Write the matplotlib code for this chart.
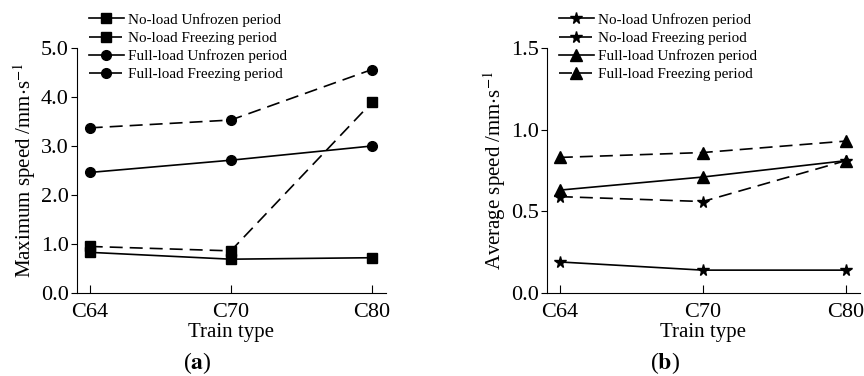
import matplotlib
matplotlib.use("Agg")
import matplotlib.pyplot as plt

plt.rcParams['font.family'] = ['Liberation Serif', 'DejaVu Serif']
plt.rcParams['mathtext.fontset'] = 'stix'

train_types = ["C64", "C70", "C80"]
series_labels = ["No-load Unfrozen period", "No-load Freezing period",
                 "Full-load Unfrozen period", "Full-load Freezing period"]

# (a) maximum speed, mm/s
max_noload_unfrozen = [0.83, 0.69, 0.72]
max_noload_freezing = [0.95, 0.86, 3.89]
max_fullload_unfrozen = [2.46, 2.71, 3.00]
max_fullload_freezing = [3.37, 3.53, 4.56]

# (b) average speed, mm/s
avg_noload_unfrozen = [0.19, 0.14, 0.14]
avg_noload_freezing = [0.59, 0.56, 0.81]
avg_fullload_unfrozen = [0.63, 0.71, 0.81]
avg_fullload_freezing = [0.83, 0.86, 0.93]

W, H = 864, 376
fig = plt.figure(figsize=(W / 100, H / 100), dpi=100)

DASH = (7.8, 4.2)


def draw_panel(ax_rect, series, markers, ylim, yticks, ylabel, legend_x, tag_x, tag):
    ax = fig.add_axes(ax_rect)
    x = list(range(len(train_types)))
    styles = ['-', '--', '-', '--']
    mks = [markers[0], markers[0], markers[1], markers[1]]
    handles = []
    for vals, ls, mk, lab in zip(series, styles, mks, series_labels):
        line, = ax.plot(x, vals, color='black', lw=1.2, marker=mk, ms=markers[2],
                        label=lab)
        if ls == '--':
            line.set_dashes(DASH)
        handles.append(line)
    ax.set_xlim(-0.09, 2.1)
    ax.set_ylim(*ylim)
    ax.set_xticks(x)
    ax.set_xticklabels(train_types)
    ax.set_yticks(yticks)
    ax.set_yticklabels([f"{v:.1f}" for v in yticks])
    ax.spines['top'].set_visible(False)
    ax.spines['right'].set_visible(False)
    ax.tick_params(axis='x', direction='in', length=6, labelsize=16, pad=7)
    ax.tick_params(axis='y', direction='out', length=4, labelsize=16, pad=2)
    ax.set_xlabel("Train type", fontsize=15, labelpad=1)
    ax.set_ylabel(ylabel, fontsize=15, labelpad=2)
    ax.legend(handles=handles, loc='upper left',
              bbox_to_anchor=(legend_x / W, 1 - 13 / H), bbox_transform=fig.transFigure,
              frameon=False, fontsize=10.9, handlelength=2.3, handletextpad=0.25,
              borderpad=0, borderaxespad=0, labelspacing=0.3)
    fig.text(tag_x / W, 1 - 363 / H, "(" + r"$\mathbf{" + tag + "}$" + ")",
             ha='center', va='center', fontsize=17)
    return ax


draw_panel([77 / W, 83 / H, 309 / W, 245 / H],
           [max_noload_unfrozen, max_noload_freezing, max_fullload_unfrozen, max_fullload_freezing],
           ('s', 'o', 7), (0, 5.0), [0.0, 1.0, 2.0, 3.0, 4.0, 5.0],
           r"Maximum speed /mm$\cdot$s$^{-1}$", 89, 197, "a")

draw_panel([547 / W, 83 / H, 313 / W, 245 / H],
           [avg_noload_unfrozen, avg_noload_freezing, avg_fullload_unfrozen, avg_fullload_freezing],
           ('*', '^', 8.5), (0, 1.5), [0.0, 0.5, 1.0, 1.5],
           r"Average speed /mm$\cdot$s$^{-1}$", 559, 665, "b")

fig.savefig("out.png", dpi=100)
